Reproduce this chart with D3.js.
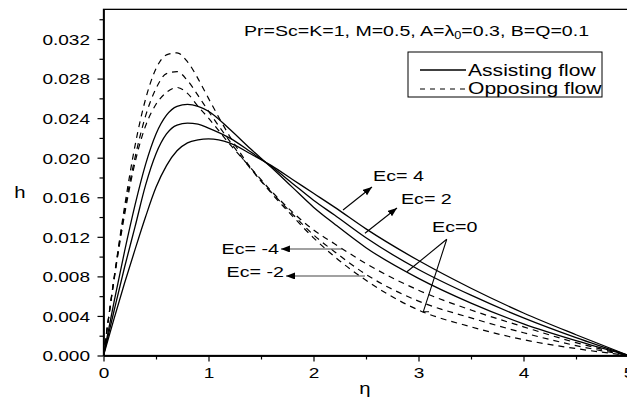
<!DOCTYPE html>
<html>
<head>
<meta charset="utf-8">
<script src="https://cdn.jsdelivr.net/npm/d3@7"></script>
<style>
    body { margin: 0; background: #fff; }
    svg { display: block; font-family: "Liberation Sans", Arial, sans-serif; }
</style>
</head>
<body>
<div id="chart-area"></div>
<script>
// Data: h against eta
var eta = [0, 0.1, 0.2, 0.3, 0.4, 0.5, 0.6, 0.7, 0.8, 0.9, 1.0, 1.2, 1.4, 1.6, 1.8, 2.0, 2.2, 2.5, 3.0, 3.5, 4.0, 4.5, 5.0];

// assisting flow (solid)
var assistEc0 = [0, 0.0054, 0.0105, 0.0152, 0.0193, 0.0224, 0.0243, 0.0252, 0.0254, 0.0252, 0.0247, 0.0229, 0.0209, 0.0190, 0.0170, 0.0150, 0.0133, 0.0109, 0.0078, 0.0053, 0.0032, 0.0015, 0];
var assistEc2 = [0, 0.0045, 0.0089, 0.0130, 0.0172, 0.0204, 0.0224, 0.0233, 0.0235, 0.0234, 0.0230, 0.0220, 0.0206, 0.0191, 0.0174, 0.0157, 0.0142, 0.0119, 0.0087, 0.0061, 0.0038, 0.0018, 0];
var assistEc4 = [0, 0.0037, 0.0073, 0.0107, 0.0140, 0.0170, 0.0192, 0.0207, 0.0215, 0.0218, 0.0219, 0.0215, 0.0204, 0.0192, 0.0178, 0.0164, 0.0150, 0.0128, 0.0096, 0.0068, 0.0043, 0.0021, 0];

// opposing flow (dashed)
var opposeEc0 = [0, 0.0078, 0.0150, 0.0212, 0.0259, 0.0290, 0.0304, 0.0306, 0.0297, 0.0280, 0.0260, 0.0222, 0.0190, 0.0164, 0.0141, 0.0119, 0.0100, 0.0076, 0.0046, 0.0029, 0.0016, 0.0007, 0];
var opposeEcM2 = [0, 0.0077, 0.0146, 0.0200, 0.0242, 0.0270, 0.0285, 0.0287, 0.0278, 0.0263, 0.0247, 0.0217, 0.0189, 0.0165, 0.0143, 0.0122, 0.0105, 0.0082, 0.0055, 0.0038, 0.0023, 0.0010, 0];
var opposeEcM4 = [0, 0.0076, 0.0142, 0.0195, 0.0232, 0.0254, 0.0266, 0.0271, 0.0265, 0.0252, 0.0240, 0.0214, 0.0190, 0.0166, 0.0145, 0.0127, 0.0113, 0.0093, 0.0066, 0.0046, 0.0029, 0.0013, 0];

var xTicks = [0, 1, 2, 3, 4, 5];
var xMinor = [0.5, 1.5, 2.5, 3.5, 4.5];
var yTicks = [0, 0.004, 0.008, 0.012, 0.016, 0.020, 0.024, 0.028, 0.032];
var yMinor = [0.002, 0.006, 0.010, 0.014, 0.018, 0.022, 0.026, 0.030, 0.034];

var series = [
    { values: assistEc0, dashed: false },
    { values: assistEc2, dashed: false },
    { values: assistEc4, dashed: false },
    { values: opposeEc0, dashed: true },
    { values: opposeEcM2, dashed: true },
    { values: opposeEcM4, dashed: true }
];

var W = 627, H = 400;
var sx = 1.27; // the source text is stretched sideways

var svg = d3.select("#chart-area")
    .append("svg")
        .attr("width", W)
        .attr("height", H);

var defs = svg.append("defs");
defs.append("marker")
    .attr("id", "head")
    .attr("markerUnits", "userSpaceOnUse")
    .attr("markerWidth", 10)
    .attr("markerHeight", 8)
    .attr("refX", 9)
    .attr("refY", 3.5)
    .attr("orient", "auto")
  .append("path")
    .attr("d", "M0,0 L9,3.5 L0,7 Z")
    .attr("fill", "#000");

// Scales
var x = d3.scaleLinear().domain([0, 5]).range([103.5, 628.5]);
var y = d3.scaleLinear().domain([0, 0.035]).range([355.5, 9.35]);

function label(sel, px, py, txt, size, anchor) {
    return sel.append("text")
        .attr("transform", "translate(" + px + "," + py + ") scale(" + sx + ",1)")
        .attr("font-size", size)
        .attr("text-anchor", anchor || "start")
        .attr("fill", "#000")
        .text(txt);
}

// Frame
svg.append("rect")
    .attr("x", x(0))
    .attr("y", y(0.035))
    .attr("width", x(5) - x(0))
    .attr("height", y(0) - y(0.035))
    .attr("fill", "none")
    .attr("stroke", "#000")
    .attr("stroke-width", 1.3);

// Y axis
var yAxis = svg.append("g")
    .attr("transform", "translate(" + x(0) + ",0)")
    .call(d3.axisLeft(y).tickValues(yTicks).tickSize(6).tickSizeOuter(0)
        .tickFormat(d3.format(".3f")));
svg.append("g")
    .attr("transform", "translate(" + x(0) + ",0)")
    .call(d3.axisLeft(y).tickValues(yMinor).tickSize(4).tickSizeOuter(0).tickFormat(""));

// X axis
var xAxis = svg.append("g")
    .attr("transform", "translate(0," + y(0) + ")")
    .call(d3.axisBottom(x).tickValues(xTicks).tickSize(6).tickSizeOuter(0)
        .tickFormat(d3.format("d")));
svg.append("g")
    .attr("transform", "translate(0," + y(0) + ")")
    .call(d3.axisBottom(x).tickValues(xMinor).tickSize(4).tickSizeOuter(0).tickFormat(""));

svg.selectAll(".domain").attr("stroke-width", 1.3);
svg.selectAll(".tick line").attr("stroke-width", 1.2);

yAxis.selectAll("text")
    .attr("x", null).attr("dy", null)
    .attr("transform", "translate(-13.5,5.3) scale(" + sx + ",1)")
    .attr("font-size", 15)
    .attr("font-family", null);
xAxis.selectAll("text")
    .attr("y", null).attr("dy", null)
    .attr("transform", "translate(0,22.5) scale(" + sx + ",1)")
    .attr("font-size", 15)
    .attr("font-family", null);

// Axis titles
label(svg, 20, 198, "h", 16, "middle");
label(svg, 365, 394, "η", 16, "middle");

// Curves
var line = d3.line()
    .x(function(d, i) { return x(eta[i]); })
    .y(function(d) { return y(d); })
    .curve(d3.curveMonotoneX);

var plot = svg.append("g");
series.forEach(function(s) {
    plot.append("path")
        .attr("d", line(s.values))
        .attr("fill", "none")
        .attr("stroke", "#000")
        .attr("stroke-width", s.dashed ? 1.2 : 1.3)
        .attr("stroke-dasharray", s.dashed ? "6,5" : null);
});

// Parameters
var title = svg.append("text")
    .attr("transform", "translate(244,36) scale(" + sx + ",1)")
    .attr("font-size", 15.4);
title.append("tspan").text("Pr=Sc=K=1, M=0.5, A=λ");
title.append("tspan").attr("font-size", 10).attr("dy", 3).text("0");
title.append("tspan").attr("dy", -3).text("=0.3, B=Q=0.1");

// Legend
var legend = svg.append("g");
legend.append("rect")
    .attr("x", 408).attr("y", 52)
    .attr("width", 194).attr("height", 45)
    .attr("fill", "#fff")
    .attr("stroke", "#000")
    .attr("stroke-width", 1);
legend.append("line")
    .attr("x1", 420).attr("x2", 466).attr("y1", 70).attr("y2", 70)
    .attr("stroke", "#000").attr("stroke-width", 1.3);
legend.append("line")
    .attr("x1", 420).attr("x2", 466).attr("y1", 89).attr("y2", 89)
    .attr("stroke", "#000").attr("stroke-width", 1.2)
    .attr("stroke-dasharray", "5,5");
label(legend, 468, 76, "Assisting flow", 16.6);
label(legend, 468, 94, "Opposing flow", 16.6);

// Ec annotations (data coordinates)
function arrow(x1, y1, x2, y2, col) {
    svg.append("line")
        .attr("x1", x(x1)).attr("y1", y(y1))
        .attr("x2", x(x2)).attr("y2", y(y2))
        .attr("stroke", col || "#000")
        .attr("stroke-width", 1.1)
        .attr("marker-end", "url(#head)");
}
function pointer(pts) {
    svg.append("path")
        .attr("d", d3.line().x(function(d) { return x(d[0]); }).y(function(d) { return y(d[1]); })(pts))
        .attr("fill", "none")
        .attr("stroke", "#000")
        .attr("stroke-width", 1.1);
}

label(svg, x(2.567), y(0.01765), "Ec= 4", 15.5);
arrow(2.281, 0.01471, 2.557, 0.01704);

label(svg, x(2.833), y(0.01532), "Ec= 2", 15.5);
arrow(2.490, 0.01236, 2.795, 0.01491);

label(svg, x(3.129), y(0.01249), "Ec=0", 15.5);
pointer([[3.269, 0.01175], [2.890, 0.00847]]);
pointer([[3.269, 0.01175], [3.046, 0.00443], [3.10, 0.00443]]);

label(svg, x(1.671), y(0.01026), "Ec= -4", 15.5, "end");
arrow(2.281, 0.01077, 1.690, 0.01077, "#444");

label(svg, x(1.719), y(0.00794), "Ec= -2", 15.5, "end");
arrow(2.490, 0.00804, 1.738, 0.00804, "#444");
</script>
</body>
</html>
